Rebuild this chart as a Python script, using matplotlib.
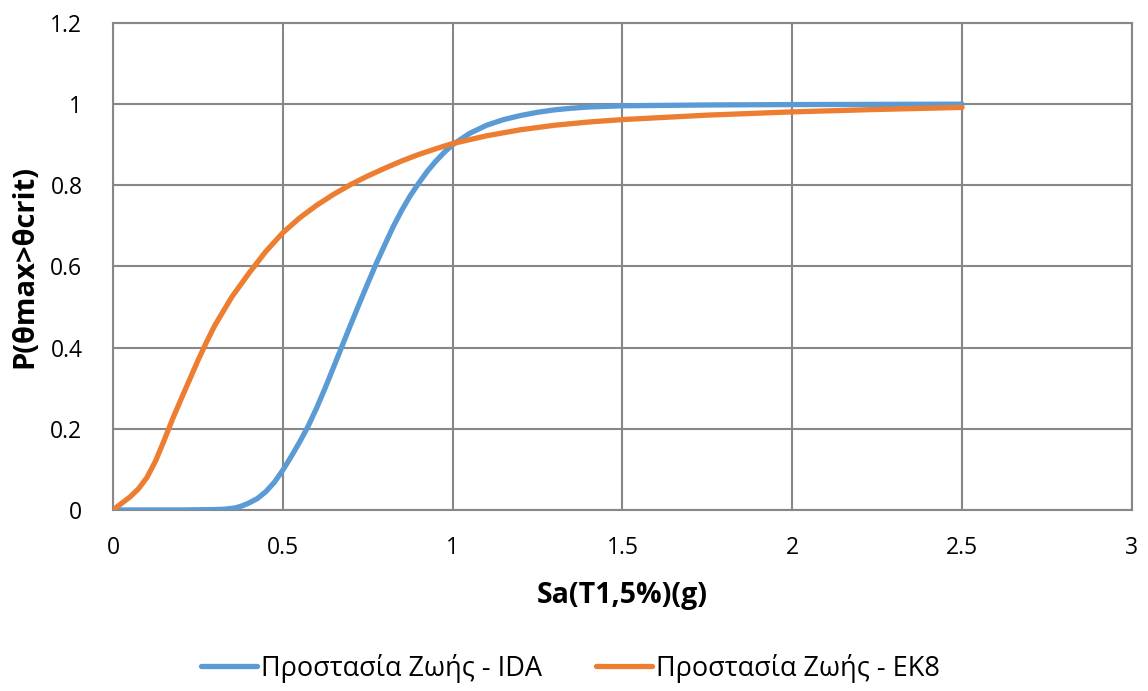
import matplotlib
matplotlib.use("Agg")
import matplotlib.pyplot as plt

plt.rcParams['font.family'] = ['Open Sans', 'DejaVu Sans']

# Fragility curves: probability of exceeding the critical drift
sa_ida = [0, 0.1, 0.2, 0.3, 0.33, 0.36, 0.38, 0.4, 0.425, 0.45, 0.475, 0.5,
          0.525, 0.55, 0.575, 0.6, 0.625, 0.65, 0.675, 0.7, 0.725, 0.75,
          0.775, 0.8, 0.825, 0.85, 0.875, 0.9, 0.925, 0.95, 0.975, 1.0, 1.05,
          1.1, 1.15, 1.2, 1.25, 1.3, 1.35, 1.4, 1.5, 1.75, 2.0, 2.5]
p_ida = [0, 0, 0, 0.001, 0.002, 0.005, 0.01, 0.017, 0.028, 0.045, 0.068,
         0.098, 0.132, 0.168, 0.207, 0.252, 0.301, 0.353, 0.405, 0.457,
         0.508, 0.558, 0.607, 0.653, 0.698, 0.738, 0.774, 0.805, 0.834,
         0.859, 0.881, 0.9, 0.928, 0.948, 0.962, 0.972, 0.98, 0.986, 0.99,
         0.993, 0.996, 0.998, 0.999, 1.0]

sa_ek8 = [0, 0.025, 0.05, 0.075, 0.1, 0.125, 0.15, 0.175, 0.2, 0.225, 0.25,
          0.275, 0.3, 0.35, 0.4, 0.45, 0.5, 0.55, 0.6, 0.65, 0.7, 0.75, 0.8,
          0.85, 0.9, 0.95, 1.0, 1.1, 1.2, 1.3, 1.4, 1.5, 1.75, 2.0, 2.25, 2.5]
p_ek8 = [0, 0.016, 0.032, 0.052, 0.08, 0.12, 0.17, 0.223, 0.272, 0.32,
         0.368, 0.413, 0.455, 0.525, 0.583, 0.637, 0.683, 0.72, 0.751, 0.778,
         0.802, 0.823, 0.842, 0.86, 0.876, 0.89, 0.903, 0.922, 0.937, 0.948,
         0.956, 0.962, 0.973, 0.981, 0.987, 0.992]

label_ida = "Προστασία Ζωής - IDA"
label_ek8 = "Προστασία Ζωής - EK8"
x_ticks = [0, 0.5, 1, 1.5, 2, 2.5, 3]
x_tick_labels = ["0", "0.5", "1", "1.5", "2", "2.5", "3"]
y_ticks = [0, 0.2, 0.4, 0.6, 0.8, 1.0, 1.2]
y_tick_labels = ["0", "0.2", "0.4", "0.6", "0.8", "1", "1.2"]

fig = plt.figure(figsize=(11.48, 6.91), dpi=100)
ax = fig.add_axes([0.0984, 0.262, 0.8876, 0.7047])

ax.plot(sa_ida, p_ida, color="#5B9BD5", lw=3.8, label=label_ida,
        solid_capstyle="round", solid_joinstyle="round", zorder=3)
ax.plot(sa_ek8, p_ek8, color="#ED7D31", lw=3.8, label=label_ek8,
        solid_capstyle="round", solid_joinstyle="round", zorder=3)

ax.set_xlim(0, 3)
ax.set_ylim(0, 1.2)
ax.set_xticks(x_ticks)
ax.set_xticklabels(x_tick_labels)
ax.set_yticks(y_ticks)
ax.set_yticklabels(y_tick_labels)
ax.tick_params(length=0, labelsize=16.5, colors="#000000")
ax.tick_params(axis="x", pad=19)
ax.tick_params(axis="y", pad=22)

grid_color = "#878787"
ax.grid(True, color=grid_color, lw=1.5)
for side in ax.spines.values():
    side.set_color(grid_color)
    side.set_linewidth(1.5)

ax.set_xlabel("Sa(T1,5%)(g)", fontsize=20.5, fontweight="bold", labelpad=15)
ax.set_ylabel("P(θmax>θcrit)", fontsize=21, fontweight="bold", labelpad=8)

fig.legend(loc="center", bbox_to_anchor=(0.497, 0.033), ncol=2, frameon=False,
           fontsize=19.5, handlelength=2.05, handletextpad=0.15,
           columnspacing=2.0, borderpad=0, borderaxespad=0)

fig.savefig("out.png", dpi=100)
